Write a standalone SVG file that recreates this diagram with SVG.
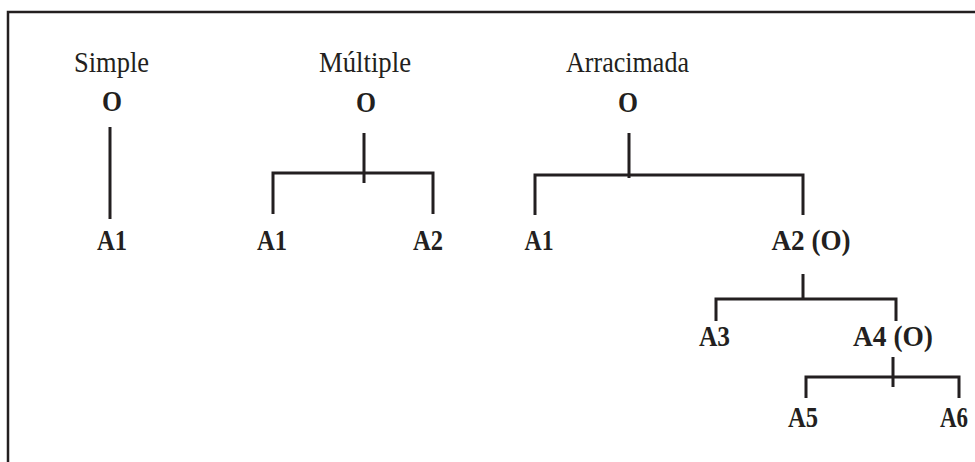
<svg xmlns="http://www.w3.org/2000/svg" width="975" height="462" viewBox="0 0 975 462">
<style>
.t{font-family:"Liberation Serif","Times New Roman",serif;font-size:29px;fill:#231f20;text-anchor:middle}
.b{font-family:"Liberation Serif","Times New Roman",serif;font-size:30px;font-weight:bold;fill:#231f20;text-anchor:middle}
.c{fill:none;stroke:#231f20;stroke-width:3}
</style>
<rect width="975" height="462" fill="#fff"/>
<path d="M975,12 H8 V462" fill="none" stroke="#231f20" stroke-width="2.5"/>
<g id="connectors">
<path class="c" d="M110,127 V219"/>
<path class="c" d="M364,133 V183 M273,214 V173 H433 V214"/>
<path class="c" d="M629,133 V178 M535,215 V175 H803 V215"/>
<path class="c" d="M803,274 V299 M716,321 V299 H896 V321"/>
<path class="c" d="M893,357 V387 M806,398 V377 H959 V398"/>
</g>
<g id="title-simple"><text class="t" x="111.5" y="72" textLength="75" lengthAdjust="spacingAndGlyphs">Simple</text></g>
<g id="title-multiple"><text class="t" x="365" y="72" textLength="92" lengthAdjust="spacingAndGlyphs">Múltiple</text></g>
<g id="title-arracimada"><text class="t" x="627.5" y="72" textLength="123" lengthAdjust="spacingAndGlyphs">Arracimada</text></g>
<g id="s-o"><text class="b" x="112" y="111" textLength="20" lengthAdjust="spacingAndGlyphs">O</text></g>
<g id="s-a1"><text class="b" x="112" y="250" textLength="30" lengthAdjust="spacingAndGlyphs">A1</text></g>
<g id="m-o"><text class="b" x="366" y="112" textLength="20" lengthAdjust="spacingAndGlyphs">O</text></g>
<g id="m-a1"><text class="b" x="272" y="250" textLength="30" lengthAdjust="spacingAndGlyphs">A1</text></g>
<g id="m-a2"><text class="b" x="428" y="250" textLength="30" lengthAdjust="spacingAndGlyphs">A2</text></g>
<g id="a-o"><text class="b" x="628" y="112" textLength="20" lengthAdjust="spacingAndGlyphs">O</text></g>
<g id="a-a1"><text class="b" x="539" y="250" textLength="29" lengthAdjust="spacingAndGlyphs">A1</text></g>
<g id="a-a2"><text class="b" x="811" y="250" textLength="79" lengthAdjust="spacingAndGlyphs">A2 (O)</text></g>
<g id="a-a3"><text class="b" x="714.5" y="346" textLength="31" lengthAdjust="spacingAndGlyphs">A3</text></g>
<g id="a-a4"><text class="b" x="893" y="346" textLength="80" lengthAdjust="spacingAndGlyphs">A4 (O)</text></g>
<g id="a-a5"><text class="b" x="803" y="427" textLength="30" lengthAdjust="spacingAndGlyphs">A5</text></g>
<g id="a-a6"><text class="b" x="954" y="427" textLength="28" lengthAdjust="spacingAndGlyphs">A6</text></g>
</svg>
